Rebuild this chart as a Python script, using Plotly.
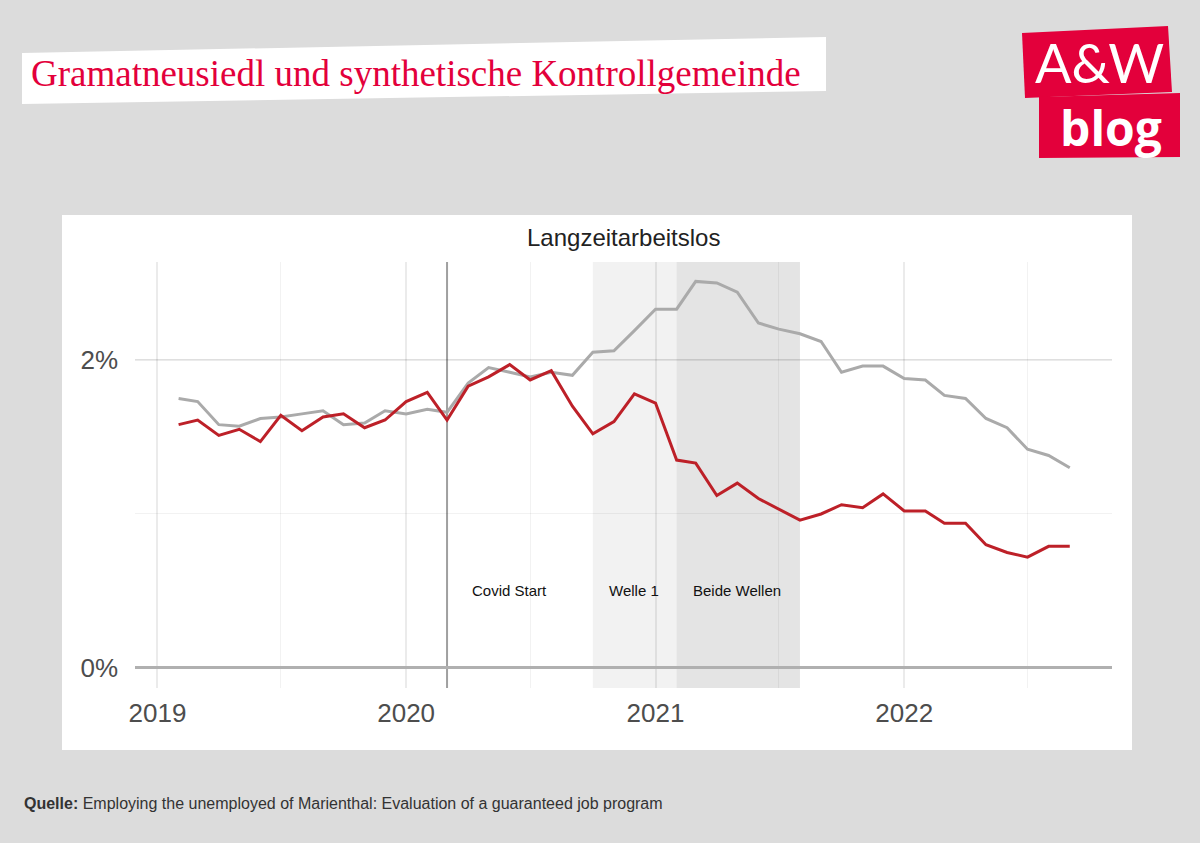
import pandas as pd
import plotly.graph_objects as go

# ---- data (monthly, Feb 2019 - Sep 2022), long-term unemployment in % ----
months = pd.date_range("2019-02-01", periods=44, freq="MS")

kontroll = [1.75, 1.73, 1.58, 1.57, 1.62, 1.63, 1.65, 1.67, 1.58, 1.59, 1.67,
            1.65, 1.68, 1.66, 1.85, 1.95, 1.92, 1.89, 1.92, 1.90, 2.05, 2.06, 2.19,
            2.33, 2.33, 2.51, 2.50, 2.44, 2.24, 2.20, 2.17, 2.12, 1.92, 1.96, 1.96,
            1.88, 1.87, 1.77, 1.75, 1.62, 1.56, 1.42, 1.38, 1.30]

gramatneusiedl = [1.58, 1.61, 1.51, 1.55, 1.47, 1.64, 1.54, 1.63, 1.65, 1.56, 1.61,
                  1.73, 1.79, 1.61, 1.83, 1.89, 1.97, 1.87, 1.93, 1.70, 1.52, 1.60, 1.78,
                  1.72, 1.35, 1.33, 1.12, 1.20, 1.10, 1.03, 0.96, 1.00, 1.06, 1.04, 1.13,
                  1.02, 1.02, 0.94, 0.94, 0.80, 0.75, 0.72, 0.79, 0.79]

y_tickvals = [0, 2]
y_ticktext = ["0%", "2%"]

covid_start = "2020-03-01"
welle1 = ("2020-10-01", "2021-08-01")
beide = ("2021-02-01", "2021-08-01")
annot_labels = [("2020-06-01", "Covid Start"), ("2020-12-01", "Welle 1"), ("2021-05-01", "Beide Wellen")]

W, H = 1200, 843
def px(x):
    return x / W
def py(y):
    return 1 - y / H

RED = "#e3003b"

fig = go.Figure()
fig.add_trace(go.Scatter(x=months, y=kontroll, mode="lines",
                         line=dict(color="#aaaaaa", width=3), name="Kontrollgemeinde",
                         showlegend=False, hoverinfo="skip"))
fig.add_trace(go.Scatter(x=months, y=gramatneusiedl, mode="lines",
                         line=dict(color="#bd2028", width=3), name="Gramatneusiedl",
                         showlegend=False, hoverinfo="skip"))

shapes = []
# white chart panel
shapes.append(dict(type="rect", xref="paper", yref="paper", x0=px(62), x1=px(1132),
                   y0=py(750), y1=py(215), fillcolor="white", line=dict(width=0), layer="below"))
# title box (slightly tilted)
shapes.append(dict(type="path", xref="paper", yref="paper",
                   path=f"M {px(22)},{py(53)} L {px(826)},{py(37)} L {px(826)},{py(91)} L {px(22)},{py(104)} Z",
                   fillcolor="white", line=dict(width=0), layer="below"))
# logo boxes
shapes.append(dict(type="path", xref="paper", yref="paper",
                   path=f"M {px(1022)},{py(33)} L {px(1168)},{py(26)} L {px(1172)},{py(92)} L {px(1025)},{py(98)} Z",
                   fillcolor=RED, line=dict(width=0), layer="above"))
shapes.append(dict(type="path", xref="paper", yref="paper",
                   path=f"M {px(1039)},{py(97)} L {px(1180)},{py(93)} L {px(1180)},{py(157)} L {px(1039)},{py(158)} Z",
                   fillcolor=RED, line=dict(width=0), layer="above"))
# shaded periods
shapes.append(dict(type="rect", xref="x", yref="y domain", x0=welle1[0], x1=welle1[1], y0=0, y1=1,
                   fillcolor="#f2f2f2", line=dict(width=0), layer="below"))
shapes.append(dict(type="rect", xref="x", yref="y domain", x0=beide[0], x1=beide[1], y0=0, y1=1,
                   fillcolor="#e4e4e4", line=dict(width=0), layer="below"))
# covid start line
shapes.append(dict(type="line", xref="x", yref="y domain", x0=covid_start, x1=covid_start, y0=0, y1=1,
                   line=dict(color="#a0a0a0", width=2), layer="below"))

annotations = []
for xd, txt in annot_labels:
    annotations.append(dict(x=xd, y=0.5, xref="x", yref="y", text=txt, showarrow=False,
                            font=dict(family="Liberation Sans, Arial", size=15, color="#111111")))
annotations.append(dict(x=px(623.5), y=py(238), xref="paper", yref="paper", text="Langzeitarbeitslos",
                        showarrow=False, xanchor="center", yanchor="middle",
                        font=dict(family="Liberation Sans, Arial", size=24, color="#222222")))
annotations.append(dict(x=px(29), y=py(73), xref="paper", yref="paper",
                        text="Gramatneusiedl und synthetische Kontrollgemeinde",
                        showarrow=False, xanchor="left", yanchor="middle",
                        font=dict(family="Liberation Serif, DejaVu Serif", size=37, color=RED)))
annotations.append(dict(x=px(1099), y=py(63), xref="paper", yref="paper", text="A&amp;W",
                        showarrow=False, xanchor="center", yanchor="middle",
                        font=dict(family="Lato, Open Sans", size=54, color="white", weight=400)))
annotations.append(dict(x=px(1111), y=py(128), xref="paper", yref="paper", text="blog",
                        showarrow=False, xanchor="center", yanchor="middle",
                        font=dict(family="Open Sans, Lato", size=48, color="white", weight=700)))
annotations.append(dict(x=px(22), y=py(803), xref="paper", yref="paper",
                        text="<b>Quelle:</b> Employing the unemployed of Marienthal: Evaluation of a guaranteed job program",
                        showarrow=False, xanchor="left", yanchor="middle",
                        font=dict(family="Liberation Sans Narrow, Liberation Sans", size=16, color="#333333")))

grid_rgba = "rgba(0,0,0,0.08)"
fig.update_layout(
    width=W, height=H,
    margin=dict(l=0, r=0, t=0, b=0, pad=0),
    paper_bgcolor="#dcdcdc",
    plot_bgcolor="white",
    shapes=shapes,
    annotations=annotations,
    showlegend=False,
    hovermode=False,
    xaxis=dict(domain=[px(135), px(1112)], range=["2018-11-29", "2022-11-02"], type="date",
               tick0="2019-01-01", dtick="M12", tickformat="%Y", ticks="", automargin=False,
               showgrid=True, gridcolor=grid_rgba, gridwidth=1.5,
               minor=dict(dtick="M6", tick0="2019-01-01", showgrid=True, gridcolor="rgba(0,0,0,0.05)", gridwidth=1),
               zeroline=False, showline=False, ticklabelstandoff=7,
               tickfont=dict(family="Liberation Sans, Arial", size=26, color="#4d4d4d")),
    yaxis=dict(domain=[py(688), py(262)], range=[-0.13, 2.636], automargin=False,
               tickvals=y_tickvals, ticktext=y_ticktext, ticks="",
               showgrid=True, gridcolor=grid_rgba, gridwidth=1.5,
               minor=dict(dtick=1, tick0=0, showgrid=True, gridcolor="rgba(0,0,0,0.05)", gridwidth=1),
               zeroline=True, zerolinecolor="#b0b0b0", zerolinewidth=3, showline=False,
               ticklabelstandoff=16,
               tickfont=dict(family="Liberation Sans, Arial", size=26, color="#4d4d4d")),
)

fig.write_html("out.html", config={"displayModeBar": False},
               post_script="document.body.style.margin='0';document.body.style.padding='0';")
